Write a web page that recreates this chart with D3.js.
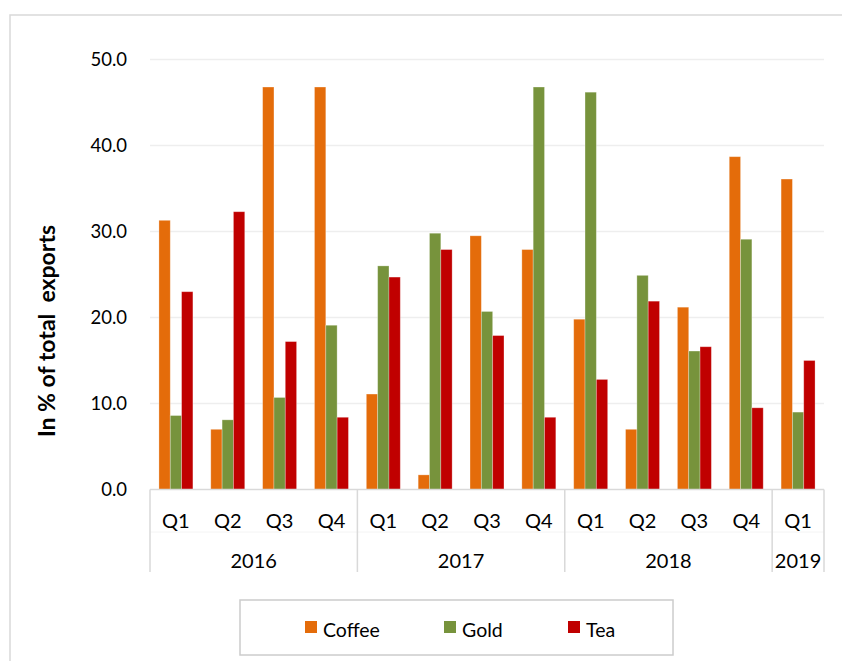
<!DOCTYPE html>
<html>
<head>
<meta charset="utf-8">
<script src="https://cdn.jsdelivr.net/npm/d3@7"></script>
<style>
  html, body { margin: 0; padding: 0; background: #fff; }
  svg { display: block; font-family: Lato, "Open Sans", sans-serif; }
</style>
</head>
<body>
<svg id="chart" width="842" height="661"></svg>
<script>
// Quarterly export shares, in % of total exports
const quarters = ["Q1","Q2","Q3","Q4","Q1","Q2","Q3","Q4","Q1","Q2","Q3","Q4","Q1"];
const years = [
  { label: "2016", start: 0, end: 4 },
  { label: "2017", start: 4, end: 8 },
  { label: "2018", start: 8, end: 12 },
  { label: "2019", start: 12, end: 13 }
];
const seriesNames = ["Coffee", "Gold", "Tea"];
const coffee = [31.3, 7.0, 46.8, 46.8, 11.1, 1.7, 29.5, 27.9, 19.8, 7.0, 21.2, 38.7, 36.1];
const gold   = [8.6, 8.1, 10.7, 19.1, 26.0, 29.8, 20.7, 46.8, 46.2, 24.9, 16.1, 29.1, 9.0];
const tea    = [23.0, 32.3, 17.2, 8.4, 24.7, 27.9, 17.9, 8.4, 12.8, 21.9, 16.6, 9.5, 15.0];
const yTicks = [0, 10, 20, 30, 40, 50];
const colors = { Coffee: "#E46C0A", Gold: "#77933C", Tea: "#C00000" };

const values = { Coffee: coffee, Gold: gold, Tea: tea };
const svg = d3.select("#chart");

// Outer chart frame
svg.append("rect")
  .attr("x", 10).attr("y", 15).attr("width", 840).attr("height", 660)
  .attr("fill", "none").attr("stroke", "#d9d9d9").attr("stroke-width", 1.5);

const plotLeft = 150, plotRight = 824, plotTop = 59.5, plotBottom = 489.5;

const y = d3.scaleLinear().domain([0, 50]).range([plotBottom, plotTop]);
const x0 = d3.scaleBand().domain(d3.range(quarters.length)).range([plotLeft, plotRight]).padding(0);
const x1 = d3.scaleBand().domain(seriesNames).range([0, x0.bandwidth()])
  .paddingInner(0).paddingOuter(0.79);

// Gridlines
svg.append("g").selectAll("line")
  .data(yTicks.filter(d => d > 0))
  .join("line")
  .attr("x1", plotLeft).attr("x2", plotRight)
  .attr("y1", d => y(d)).attr("y2", d => y(d))
  .attr("stroke", "#eeeeee").attr("stroke-width", 1.5);

// Y tick labels
svg.append("g").selectAll("text")
  .data(yTicks)
  .join("text")
  .attr("x", 127).attr("y", d => y(d))
  .attr("dy", "0.35em")
  .attr("text-anchor", "end")
  .attr("font-size", 18.5).attr("fill", "#000")
  .text(d => d.toFixed(1));

// Y axis title
svg.append("text")
  .attr("transform", "translate(55,331) rotate(-90)")
  .attr("text-anchor", "middle")
  .attr("font-size", 23).attr("font-weight", "bold")
  .style("white-space", "pre")
  .text("In % of total  exports");

// Bars
const groups = svg.append("g").selectAll("g")
  .data(quarters.map((q, i) => i))
  .join("g")
  .attr("transform", i => `translate(${x0(i)},0)`);

groups.selectAll("rect")
  .data(i => seriesNames.map(s => ({ s, v: values[s][i] })))
  .join("rect")
  .attr("x", d => x1(d.s))
  .attr("width", x1.bandwidth())
  .attr("y", d => y(d.v))
  .attr("height", d => y(0) - y(d.v))
  .attr("fill", d => colors[d.s])
  .attr("stroke", "#ffffff").attr("stroke-opacity", 0.35).attr("stroke-width", 0.8);

// Category axis: baseline and year separators
const axis = svg.append("g").attr("stroke", "#d9d9d9").attr("stroke-width", 1.5);
axis.append("line").attr("x1", plotLeft).attr("x2", plotRight).attr("y1", plotBottom).attr("y2", plotBottom);
axis.append("line").attr("x1", plotLeft).attr("x2", plotRight).attr("y1", 532).attr("y2", 532)
  .attr("stroke", "#f4f4f4").attr("stroke-width", 1);
const bounds = years.map(yr => yr.start).concat([quarters.length]);
axis.selectAll("line.sep")
  .data(bounds)
  .join("line").attr("class", "sep")
  .attr("x1", i => i < quarters.length ? x0(i) : plotRight)
  .attr("x2", i => i < quarters.length ? x0(i) : plotRight)
  .attr("y1", plotBottom).attr("y2", 572);

// Quarter labels
svg.append("g").selectAll("text")
  .data(quarters)
  .join("text")
  .attr("x", (q, i) => x0(i) + x0.bandwidth() / 2)
  .attr("y", 528)
  .attr("text-anchor", "middle")
  .attr("font-size", 20)
  .text(q => q);

// Year labels
svg.append("g").selectAll("text")
  .data(years)
  .join("text")
  .attr("x", d => (x0(d.start) + (d.end < quarters.length ? x0(d.end) : plotRight)) / 2)
  .attr("y", 568)
  .attr("text-anchor", "middle")
  .attr("font-size", 20)
  .text(d => d.label);

// Legend
const legend = svg.append("g");
legend.append("rect")
  .attr("x", 240).attr("y", 600).attr("width", 433).attr("height", 55)
  .attr("fill", "#fff").attr("stroke", "#cccccc").attr("stroke-width", 1.5);
const legendX = [305, 444, 568];
const items = legend.selectAll("g.item")
  .data(seriesNames)
  .join("g").attr("class", "item")
  .attr("transform", (s, i) => `translate(${legendX[i]},621)`);
items.append("rect")
  .attr("width", 12).attr("height", 12)
  .attr("fill", s => colors[s]);
items.append("text")
  .attr("x", 18).attr("y", 15.5)
  .attr("font-size", 19.5)
  .text(s => s);
</script>
</body>
</html>
